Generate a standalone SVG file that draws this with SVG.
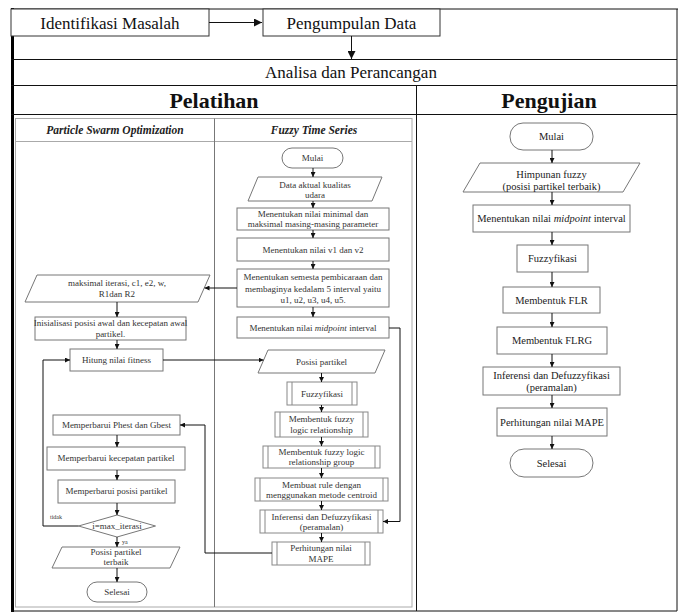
<svg xmlns="http://www.w3.org/2000/svg" width="678" height="612" viewBox="0 0 678 612" font-family="'Liberation Serif', 'Times New Roman', Times, serif">
<defs>
<style>
text{font-family:'Liberation Serif','Times New Roman',Times,serif;text-anchor:middle;fill:#222}
.big{font-size:17px;fill:#111}
.hdr{font-size:22px;font-weight:bold;fill:#111}
.sub{font-size:11.5px;font-weight:bold;font-style:italic;fill:#222}
.s9{font-size:9px;fill:#333}
.s6{font-size:6px;fill:#333;text-anchor:start}
.s10{font-size:10.5px;fill:#222}
.frame{fill:none;stroke:#111;stroke-width:1}
.box{fill:#fff;stroke:#777;stroke-width:1}
.pbox{fill:#fff;stroke:#888;stroke-width:1}
.panel{fill:#fff;stroke:#aaa;stroke-width:1}
.tbox{fill:#fff;stroke:#333;stroke-width:1}
.conn{fill:none;stroke:#111;stroke-width:1}
.arr{marker-end:url(#ah)}
.arrb{marker-end:url(#ahb)}
</style>
<marker id="ah" viewBox="0 0 8 8" refX="8" refY="4" markerWidth="5" markerHeight="5" orient="auto" markerUnits="userSpaceOnUse"><path d="M0,0 L8,4 L0,8 z" fill="#111"/></marker>
<marker id="ahb" viewBox="0 0 8 8" refX="8" refY="4" markerWidth="8" markerHeight="8" orient="auto" markerUnits="userSpaceOnUse"><path d="M0,0 L8,4 L0,8 z" fill="#111"/></marker>
</defs>
<rect x="0" y="0" width="678" height="612" fill="#fff"/>

<g id="frame">
<line class="frame" x1="11" y1="9" x2="678" y2="9" stroke-width="2"/>
<line x1="12.5" y1="8" x2="12.5" y2="612" stroke="#000" stroke-width="3"/>
<line class="frame" x1="677" y1="9" x2="677" y2="611"/>
<line class="frame" x1="11" y1="611" x2="677" y2="611"/>
<line class="frame" x1="11" y1="59.5" x2="677" y2="59.5"/>
<line class="frame" x1="11" y1="85.5" x2="677" y2="85.5"/>
<line class="frame" x1="11" y1="114.5" x2="677" y2="114.5"/>
<line class="frame" x1="416.5" y1="85.5" x2="416.5" y2="611"/>
</g>

<g id="n-identifikasi">
<rect class="tbox" x="11" y="9" width="198" height="27"/>
<text class="big" x="110" y="28.5">Identifikasi Masalah</text>
</g>
<g id="n-pengumpulan">
<rect class="tbox" x="263" y="9" width="177" height="27"/>
<text class="big" x="351.5" y="28.5">Pengumpulan Data</text>
</g>
<g id="n-analisa">
<text class="big" x="351" y="78">Analisa dan Perancangan</text>
</g>
<g id="n-pelatihan">
<text class="hdr" x="214" y="108">Pelatihan</text>
</g>
<g id="n-pengujian">
<text class="hdr" x="549" y="108">Pengujian</text>
</g>

<g id="panel">
<rect class="panel" x="15.5" y="118.5" width="396.5" height="488.5"/>
<line class="panel" x1="15.5" y1="141.5" x2="412" y2="141.5"/>
<line x1="214.5" y1="118.5" x2="214.5" y2="607" stroke="#777" stroke-width="1"/>
<text class="sub" x="115" y="134">Particle Swarm Optimization</text>
<text class="sub" x="314" y="134">Fuzzy Time Series</text>
</g>

<g id="f-mulai">
<rect class="box" x="282" y="148" width="61" height="20" rx="10"/>
<text class="s9" x="312.5" y="161">Mulai</text>
</g>
<g id="f-data">
<polygon class="box" points="258,177 382,177 372,201 248,201"/>
<text class="s9" x="315" y="188">Data aktual kualitas</text>
<text class="s9" x="315" y="198">udara</text>
</g>
<g id="f-minmax">
<rect class="box" x="237" y="208" width="152" height="22"/>
<text class="s9" x="313" y="217">Menentukan nilai minimal dan</text>
<text class="s9" x="313" y="227">maksimal masing-masing parameter</text>
</g>
<g id="f-v1v2">
<rect class="box" x="237" y="238" width="152" height="23"/>
<text class="s9" x="313" y="252.5">Menentukan nilai v1 dan v2</text>
</g>
<g id="f-semesta">
<rect class="box" x="237" y="269" width="152" height="38"/>
<text class="s9" x="313" y="280">Menentukan semesta pembicaraan dan</text>
<text class="s9" x="313" y="291.5">membaginya kedalam 5 interval yaitu</text>
<text class="s9" x="313" y="303">u1, u2, u3, u4, u5.</text>
</g>
<g id="f-midpoint">
<rect class="box" x="237" y="317" width="152" height="21"/>
<text class="s9" x="313" y="330.5">Menentukan nilai <tspan font-style="italic">midpoint</tspan> interval</text>
</g>
<g id="f-posisi">
<polygon class="box" points="268,350 385,350 375,373 258,373"/>
<text class="s9" x="321.5" y="364.5">Posisi partikel</text>
</g>
<g id="f-fuzzyfikasi">
<rect class="pbox" x="287" y="382" width="70" height="23"/>
<line class="pbox" x1="292" y1="382" x2="292" y2="405"/><line class="pbox" x1="352" y1="382" x2="352" y2="405"/>
<text class="s9" x="322" y="396.5">Fuzzyfikasi</text>
</g>
<g id="f-flr">
<rect class="pbox" x="275" y="412" width="93" height="25"/>
<line class="pbox" x1="280" y1="412" x2="280" y2="437"/><line class="pbox" x1="363" y1="412" x2="363" y2="437"/>
<text class="s9" x="321.5" y="422">Membentuk fuzzy</text>
<text class="s9" x="321.5" y="433">logic relationship</text>
</g>
<g id="f-flrg">
<rect class="pbox" x="263" y="446" width="117" height="22"/>
<line class="pbox" x1="268" y1="446" x2="268" y2="468"/><line class="pbox" x1="375" y1="446" x2="375" y2="468"/>
<text class="s9" x="321.5" y="455">Membentuk fuzzy logic</text>
<text class="s9" x="321.5" y="465">relationship group</text>
</g>
<g id="f-rule">
<rect class="pbox" x="255" y="478" width="133" height="23"/>
<line class="pbox" x1="260" y1="478" x2="260" y2="501"/><line class="pbox" x1="383" y1="478" x2="383" y2="501"/>
<text class="s9" x="321.5" y="487.5">Membuat rule dengan</text>
<text class="s9" x="321.5" y="498">menggunakan metode centroid</text>
</g>
<g id="f-inferensi">
<rect class="pbox" x="260" y="510" width="123" height="23"/>
<line class="pbox" x1="265" y1="510" x2="265" y2="533"/><line class="pbox" x1="378" y1="510" x2="378" y2="533"/>
<text class="s9" x="321.5" y="519.5">Inferensi dan Defuzzyfikasi</text>
<text class="s9" x="321.5" y="530">(peramalan)</text>
</g>
<g id="f-mape">
<rect class="pbox" x="272" y="542" width="98" height="23"/>
<line class="pbox" x1="277" y1="542" x2="277" y2="565"/><line class="pbox" x1="365" y1="542" x2="365" y2="565"/>
<text class="s9" x="321" y="551">Perhitungan nilai</text>
<text class="s9" x="321" y="562">MAPE</text>
</g>

<g id="p-param">
<polygon class="box" points="37,275 210,275 198,302 25,302"/>
<text class="s9" x="117" y="286">maksimal iterasi, c1, e2, w,</text>
<text class="s9" x="117" y="297">R1dan R2</text>
</g>
<g id="p-init">
<rect class="box" x="35" y="317" width="151" height="23"/>
<text class="s9" x="110.5" y="326" font-size="8.6">Inisialisasi posisi awal dan kecepatan awal</text>
<text class="s9" x="110.5" y="337">partikel.</text>
</g>
<g id="p-fitness">
<rect class="box" x="70" y="349" width="93" height="22"/>
<text class="s9" x="116.5" y="363">Hitung nilai fitness</text>
</g>
<g id="p-best">
<rect class="box" x="53" y="415" width="127" height="20"/>
<text class="s9" x="116.5" y="428">Memperbarui Phest dan Gbest</text>
</g>
<g id="p-kecepatan">
<rect class="box" x="47" y="447" width="138" height="23"/>
<text class="s9" x="116" y="461">Memperbarui kecepatan partikel</text>
</g>
<g id="p-posisi">
<rect class="box" x="58" y="480" width="117" height="23"/>
<text class="s9" x="116.5" y="494">Memperbarui posisi partikel</text>
</g>
<g id="p-cek">
<polygon class="box" points="117,515 155.5,526 117,537 78.5,526"/>
<text class="s9" x="117" y="529">i=max_iterasi</text>
</g>
<g id="p-terbaik">
<polygon class="box" points="62,547 180,547 170,568 52,568"/>
<text class="s9" x="116" y="555">Posisi partikel</text>
<text class="s9" x="116" y="565">terbaik</text>
</g>
<g id="p-selesai">
<rect class="box" x="87" y="582" width="60" height="20" rx="10"/>
<text class="s9" x="117" y="595">Selesai</text>
</g>

<g id="u-mulai">
<rect class="box" x="510" y="123" width="83" height="27" rx="13"/>
<text class="s10" x="551.5" y="140">Mulai</text>
</g>
<g id="u-himpunan">
<polygon class="box" points="480,163 640,163 623,192 463,192"/>
<text class="s10" x="551.5" y="178">Himpunan fuzzy</text>
<text class="s10" x="551.5" y="190">(posisi partikel terbaik)</text>
</g>
<g id="u-midpoint">
<rect class="box" x="473" y="205" width="157" height="27"/>
<text class="s10" x="551.5" y="222">Menentukan nilai <tspan font-style="italic">midpoint</tspan> interval</text>
</g>
<g id="u-fuzzyfikasi">
<rect class="box" x="517" y="245" width="71" height="27"/>
<text class="s10" x="552.5" y="262">Fuzzyfikasi</text>
</g>
<g id="u-flr">
<rect class="box" x="503" y="287" width="97" height="26"/>
<text class="s10" x="551.5" y="303.5">Membentuk FLR</text>
</g>
<g id="u-flrg">
<rect class="box" x="497" y="327" width="110" height="27"/>
<text class="s10" x="552" y="344">Membentuk FLRG</text>
</g>
<g id="u-inferensi">
<rect class="box" x="483" y="367" width="137" height="28"/>
<text class="s10" x="551.5" y="379">Inferensi dan Defuzzyfikasi</text>
<text class="s10" x="551.5" y="391">(peramalan)</text>
</g>
<g id="u-mape">
<rect class="box" x="497" y="408" width="110" height="28"/>
<text class="s10" x="552" y="425.5">Perhitungan nilai MAPE</text>
</g>
<g id="u-selesai">
<rect class="box" x="510" y="449" width="83" height="28" rx="14"/>
<text class="s10" x="551.5" y="466.5">Selesai</text>
</g>

<g id="connectors">
<line class="conn arrb" x1="209" y1="22.5" x2="262" y2="22.5"/>
<line class="conn arrb" x1="351.5" y1="36" x2="351.5" y2="59"/>
<line class="conn arr" x1="313" y1="168" x2="313" y2="177"/>
<line class="conn arr" x1="313" y1="201" x2="313" y2="208"/>
<line class="conn arr" x1="313" y1="230" x2="313" y2="238"/>
<line class="conn arr" x1="313" y1="261" x2="313" y2="269"/>
<line class="conn arr" x1="313" y1="307" x2="313" y2="317"/>
<line class="conn arr" x1="321.5" y1="373" x2="321.5" y2="382"/>
<line class="conn arr" x1="321.5" y1="405" x2="321.5" y2="412"/>
<line class="conn arr" x1="321.5" y1="437" x2="321.5" y2="446"/>
<line class="conn arr" x1="321.5" y1="468" x2="321.5" y2="478"/>
<line class="conn arr" x1="321.5" y1="501" x2="321.5" y2="510"/>
<line class="conn arr" x1="321.5" y1="533" x2="321.5" y2="542"/>
<polyline class="conn arr" points="389,328 400,328 400,521.5 383,521.5"/>
<line class="conn arr" x1="237" y1="288" x2="204.5" y2="288"/>
<line class="conn arr" x1="117" y1="302" x2="117" y2="317"/>
<line class="conn arr" x1="117" y1="340" x2="117" y2="349"/>
<line class="conn arr" x1="163" y1="360" x2="263.5" y2="360"/>
<polyline class="conn arr" points="272,553 205,553 205,425 180,425"/>
<line class="conn arr" x1="117" y1="435" x2="117" y2="447"/>
<line class="conn arr" x1="117" y1="470" x2="117" y2="480"/>
<line class="conn arr" x1="117" y1="503" x2="117" y2="515"/>
<polyline class="conn arr" points="78.5,526 43,526 43,360 70,360"/>
<line class="conn arr" x1="117" y1="537" x2="117" y2="547"/>
<line class="conn arr" x1="117" y1="568" x2="117" y2="582"/>
<text class="s6" x="50" y="519">tidak</text>
<text class="s6" x="122" y="544">ya</text>
<line class="conn arr" x1="552" y1="150" x2="552" y2="163"/>
<line class="conn arr" x1="552" y1="192" x2="552" y2="205"/>
<line class="conn arr" x1="552" y1="232" x2="552" y2="245"/>
<line class="conn arr" x1="552" y1="272" x2="552" y2="287"/>
<line class="conn arr" x1="552" y1="313" x2="552" y2="327"/>
<line class="conn arr" x1="552" y1="354" x2="552" y2="367"/>
<line class="conn arr" x1="552" y1="395" x2="552" y2="408"/>
<line class="conn arr" x1="552" y1="436" x2="552" y2="449"/>
</g>
</svg>
